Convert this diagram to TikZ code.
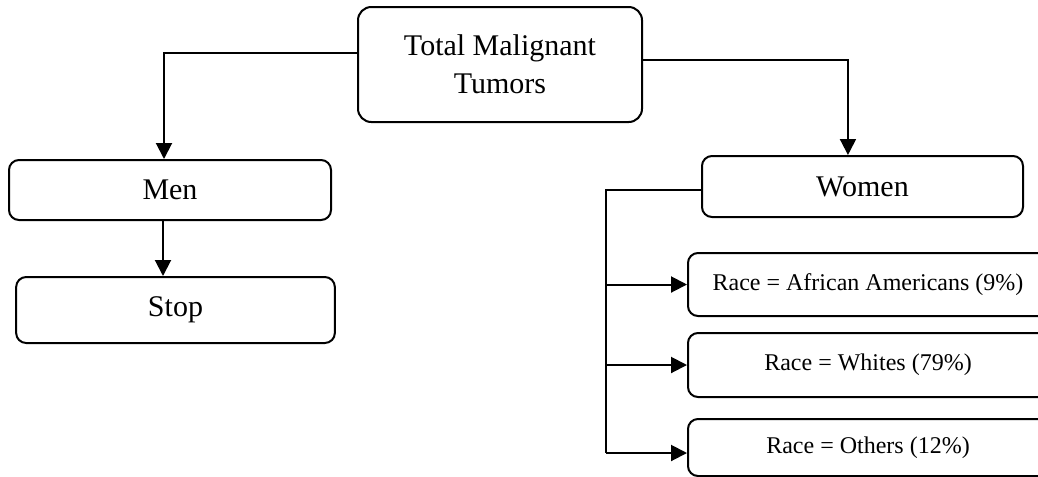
\documentclass[tikz,border=0pt]{standalone}
\usepackage{fontspec}
\setmainfont{Liberation Serif}
\usetikzlibrary{positioning,arrows.meta}

\begin{document}
\begin{tikzpicture}[x=0.75pt,y=-0.75pt,line width=1.5pt,
    box/.style={draw,rounded corners=7.5pt,align=center,inner sep=0pt,font=\fontsize{22.5}{28.5}\selectfont},
    racebox/.style={box,minimum width=270pt,font=\fontsize{18}{21}\selectfont},
    flow/.style={-{Triangle[length=12pt,width=12pt]}}]
  \useasboundingbox (0,0) rectangle (1038,476);
  \clip (0,0) rectangle (1038,476);
  % boxes
  \node[box,rounded corners=10pt,minimum width=213pt,minimum height=86.25pt] (tmt) at (500,64.5) {Total Malignant\\Tumors};
  \node[box,minimum width=241.5pt,minimum height=45pt] (men) at (170,190) {Men};
  \node[box,minimum width=239pt,minimum height=49.5pt] (stop) at (175.5,310) {Stop};
  \node[box,minimum width=240.75pt,minimum height=45.75pt] (women) at (862.5,186.5) {Women};
  \node[racebox,minimum height=47.25pt] (afam) at (868,284.5) {Race = African Americans (9\%)};
  \node[racebox,minimum height=48pt] (whites) at (868,365) {Race = Whites (79\%)};
  \node[racebox,minimum height=42.75pt] (others) at (868,447.5) {Race = Others (12\%)};
  \coordinate (bus) at (606,453);
  % connectors
  \draw[flow] ([yshift=8.6pt]tmt.west) -| ([xshift=-4.5pt]men.north);
  \draw[flow] ([yshift=3.4pt]tmt.east) -| ([xshift=-10.9pt]women.north);
  \draw[flow] ([xshift=-5.25pt]men.south) -- ([xshift=-5.25pt]men.south |- stop.north);
  \draw ([yshift=-2.6pt]women.west) -| (bus);
  \foreach \r in {afam,whites}{\draw[flow] (bus |- \r.west) -- (\r.west);}
  \draw[flow] (bus) -- (bus -| others.west);
\end{tikzpicture}
\end{document}
